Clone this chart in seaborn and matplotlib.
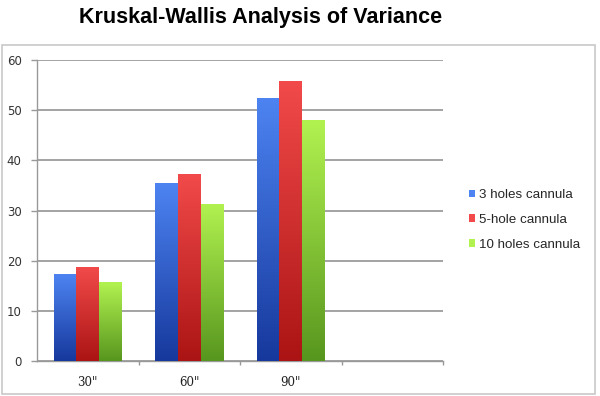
import numpy as np
import pandas as pd
import seaborn as sns
import matplotlib.pyplot as plt
from matplotlib.colors import LinearSegmentedColormap
from matplotlib.patches import Patch, Rectangle

# data
times = ['30"', '60"', '90"']
series = ["3 holes cannula", "5-hole cannula", "10 holes cannula"]
holes3 = [17.3, 35.4, 52.5]
holes5 = [18.7, 37.2, 55.8]
holes10 = [15.7, 31.3, 48.0]

# gradient colours: (top, bottom)
grad = {
    "3 holes cannula": ("#4d84f2", "#16389c"),
    "5-hole cannula": ("#f24a4a", "#ab1414"),
    "10 holes cannula": ("#b2f250", "#57961e"),
}

df = pd.DataFrame({
    "time": times * 3,
    "cannula": [s for s in series for _ in times],
    "value": holes3 + holes5 + holes10,
})

sns.set_style("white")
plt.rcParams["font.family"] = ["Liberation Sans", "DejaVu Sans"]

fig = plt.figure(figsize=(6, 3.96), dpi=100)
ax = fig.add_axes([37 / 600, 1 - 361 / 396, 406 / 600, 301 / 396])

sns.barplot(data=df, x="time", y="value", hue="cannula", order=times,
            hue_order=series, width=0.67, gap=0, dodge=True,
            palette=[grad[s][0] for s in series], legend=False, ax=ax,
            zorder=3)

# replace flat fills with vertical gradients
g = np.linspace(0, 1, 256).reshape(-1, 1)
for cont, s in zip(ax.containers, series):
    cmap = LinearSegmentedColormap.from_list(s, [grad[s][1], grad[s][0]])
    for bar in cont:
        x0, y0 = bar.get_x(), bar.get_y()
        w, h = bar.get_width(), bar.get_height()
        im = ax.imshow(g, cmap=cmap, origin="lower", aspect="auto",
                       extent=[x0, x0 + w, y0, y0 + h], zorder=3)
        im.set_clip_path(bar)
        bar.set_facecolor("none")
        bar.set_edgecolor("none")

ax.set_xlim(-0.5, 3.5)
ax.set_ylim(0, 60)
ax.set_yticks(range(0, 61, 10))
ax.yaxis.grid(True, color="#a3a3a3", linewidth=1.4, zorder=0)
ax.set_axisbelow(True)
ax.set_xlabel("")
ax.set_ylabel("")

ax.set_xticks(range(len(times)))
ax.set_xticklabels(times, family="DejaVu Serif", fontsize=8.5, color="#222222")
ax.set_xticks([0.5, 1.5, 2.5, 3.5], minor=True)
ax.tick_params(axis="x", which="major", length=0, pad=11)
ax.tick_params(axis="x", which="minor", length=3, width=1, color="#999999",
               direction="out", bottom=True)
ax.tick_params(axis="y", length=4, width=1, color="#999999", pad=7, left=True)
for t in ax.get_yticklabels():
    t.set_family("DejaVu Sans")
    t.set_fontsize(8.5)
    t.set_color("#333333")

for side in ["top", "right"]:
    ax.spines[side].set_visible(False)
for side in ["left", "bottom"]:
    ax.spines[side].set_color("#999999")
    ax.spines[side].set_linewidth(1)

handles = [Patch(facecolor=grad[s][0], edgecolor="none") for s in series]
fig.legend(handles, series, loc="center left",
           bbox_to_anchor=(462 / 600, 1 - 220 / 396), frameon=False,
           fontsize=9.6, handlelength=0.5, handleheight=0.5,
           handletextpad=0.3, labelspacing=0.95, borderpad=0)

fig.add_artist(Rectangle((2 / 600, 2 / 396), 593 / 600, 349 / 396,
                         transform=fig.transFigure, fill=False,
                         edgecolor="#c8c8c8", linewidth=1.2))

fig.text(261 / 600, 1 - 18 / 396, "Kruskal-Wallis Analysis of Variance",
         ha="center", va="center", fontsize=15.5, fontweight="bold",
         color="black")

fig.savefig("out.png", dpi=100)
